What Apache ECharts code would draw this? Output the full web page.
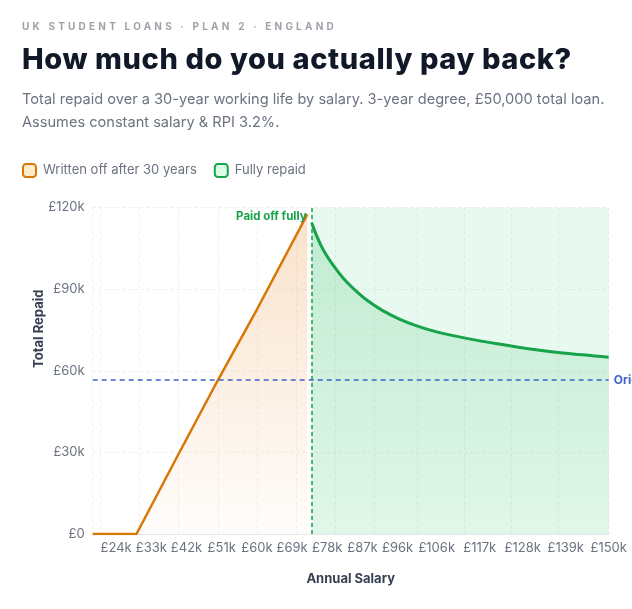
<!DOCTYPE html>
<html>
<head>
<meta charset="utf-8">
<script src="https://cdn.jsdelivr.net/npm/echarts@6.0.0/dist/echarts.min.js"></script>
<style>
  html, body { margin: 0; padding: 0; background: #fff; }
  body { width: 632px; height: 609px; position: relative; overflow: hidden; font-family: Inter, sans-serif; }
  #chart { position: absolute; left: 0; top: 0; width: 632px; height: 609px; }
  .hdr { position: absolute; left: 22px; white-space: nowrap; pointer-events: none; }
  #eyebrow { top: 19px; font-size: 10px; font-weight: 700; letter-spacing: 3.2px; color: #a1a1aa; line-height: 14px; }
  #title { top: 45px; font-size: 29px; font-weight: 800; color: #111827; line-height: 28px; letter-spacing: 0.6px; }
  #sub { top: 88px; font-size: 14.6px; color: #6b7280; line-height: 23px; }
</style>
</head>
<body>
<div id="chart"></div>
<div class="hdr" id="eyebrow">UK STUDENT LOANS · PLAN 2 · ENGLAND</div>
<div class="hdr" id="title">How much do you actually pay back?</div>
<div class="hdr" id="sub">Total repaid over a 30-year working life by salary. 3-year degree, £50,000 total loan.<br>Assumes constant salary &amp; RPI 3.2%.</div>
<script>
// salaries where the loan is written off after 30 years
var writtenOffSalary = [18000, 29200, 40000, 50000, 60000, 72900];
var writtenOffRepaid = [0, 0, 29500, 56500, 82500, 117500];

// salaries where the loan is fully repaid
var repaidSalary = [74000, 75300, 77000, 79600, 82100, 84700, 88100, 92300, 96600, 100900, 106000, 113300, 121900, 130400, 138900, 150000];
var repaidTotal  = [114400, 109600, 104400, 98600, 94000, 90200, 86000, 82000, 78900, 76500, 74300, 72000, 69800, 67900, 66400, 65000];

var salaryLabels = [24000, 33000, 42000, 51000, 60000, 69000, 78000, 87000, 96000, 106000, 117000, 128000, 139000, 150000];
var gridSalaries = [18000, 20000, 30000, 40000, 50000, 60000, 70000, 80000, 90000, 101000, 113000, 125000, 137000, 150000];

var paidOffAt = 74000;
var originalLoan = 56600;

var chart = echarts.init(document.getElementById('chart'));

var font = 'Inter, sans-serif';

var option = {
    textStyle: { fontFamily: font },
    legend: {
        left: 17,
        top: 158,
        icon: 'roundRect',
        itemWidth: 13,
        itemHeight: 13,
        itemGap: 17,
        textStyle: { color: '#6b7280', fontSize: 13, fontFamily: font, padding: [0, 0, 0, 2] },
        data: [
            { name: 'Written off after 30 years', itemStyle: { color: '#fdecc8', borderColor: '#d97706', borderWidth: 2 } },
            { name: 'Fully repaid', itemStyle: { color: '#dcfce7', borderColor: '#16a34a', borderWidth: 2 } }
        ]
    },
    grid: { left: 92.7, right: 23.3, top: 207.5, bottom: 75 },
    xAxis: {
        type: 'value',
        min: 18000,
        max: 150000,
        name: 'Annual Salary',
        nameLocation: 'middle',
        nameGap: 39,
        nameTextStyle: { color: '#374151', fontSize: 13, fontWeight: 'bold', fontFamily: font },
        axisLine: { show: true, lineStyle: { color: '#e5e7eb', width: 1 } },
        axisTick: { show: false, customValues: gridSalaries },
        axisLabel: {
            customValues: salaryLabels,
            color: '#6b7280',
            fontSize: 13,
            margin: 8,
            fontFamily: font,
            formatter: function (v) { return '£' + Math.round(v / 1000) + 'k'; }
        },
        splitLine: { show: true, lineStyle: { color: '#efefef', type: [3, 3] } }
    },
    yAxis: {
        type: 'value',
        min: 0,
        max: 120000,
        interval: 30000,
        name: 'Total Repaid',
        nameLocation: 'middle',
        nameGap: 47,
        nameMoveOverlap: false,
        nameTextStyle: { color: '#374151', fontSize: 13, fontWeight: 'bold', fontFamily: font, padding: [0, 0, 0, 84] },
        axisLine: { show: false },
        axisTick: { show: false },
        axisLabel: {
            color: '#6b7280',
            fontSize: 13,
            margin: 8,
            fontFamily: font,
            formatter: function (v) { return v === 0 ? '£0' : '£' + v / 1000 + 'k'; }
        },
        splitLine: { show: true, lineStyle: { color: '#efefef', type: [3, 3] } }
    },
    series: [
        {
            name: 'Written off after 30 years',
            type: 'line',
            showSymbol: false,
            symbol: 'none',
            lineStyle: { color: '#d97706', width: 2.5 },
            itemStyle: { color: '#d97706' },
            areaStyle: {
                color: new echarts.graphic.LinearGradient(0, 0, 0, 1, [
                    { offset: 0, color: 'rgba(230,140,50,0.36)' },
                    { offset: 1, color: 'rgba(230,140,50,0.03)' }
                ])
            },
            data: writtenOffSalary.map(function (s, i) { return [s, writtenOffRepaid[i]]; }),
            z: 3
        },
        {
            name: 'Fully repaid',
            type: 'line',
            showSymbol: false,
            symbol: 'none',
            smooth: 0.3,
            lineStyle: { color: '#16a34a', width: 3 },
            itemStyle: { color: '#16a34a' },
            areaStyle: {
                color: new echarts.graphic.LinearGradient(0, 0, 0, 1, [
                    { offset: 0, color: 'rgba(34,180,90,0.28)' },
                    { offset: 1, color: 'rgba(34,180,90,0.06)' }
                ])
            },
            data: repaidSalary.map(function (s, i) { return [s, repaidTotal[i]]; }),
            markArea: {
                silent: true,
                itemStyle: { color: 'rgba(34,197,94,0.10)' },
                data: [[{ xAxis: paidOffAt }, { xAxis: 150000 }]]
            },
            markLine: {
                silent: true,
                symbol: 'none',
                data: [
                    {
                        xAxis: paidOffAt,
                        lineStyle: { color: '#16a34a', type: [4, 3], width: 1.5 },
                        label: { show: false }
                    },
                    {
                        yAxis: originalLoan,
                        lineStyle: { color: '#3d63c9', type: [5, 4], width: 1.5 },
                        label: {
                            show: true,
                            position: 'end',
                            distance: 5,
                            formatter: 'Original loan',
                            color: '#3d63c9',
                            fontSize: 12,
                            fontWeight: 'bold',
                            fontFamily: font
                        }
                    }
                ]
            },
            markPoint: {
                silent: true,
                symbol: 'circle',
                symbolSize: 0,
                data: [{
                    coord: [paidOffAt, 116500],
                    label: {
                        show: true,
                        position: 'left',
                        distance: 5,
                        formatter: 'Paid off fully',
                        color: '#16a34a',
                        fontSize: 11.5,
                        fontWeight: 'bold',
                        fontFamily: font
                    }
                }]
            },
            z: 3
        }
    ]
};

chart.setOption(option);
</script>
</body>
</html>
